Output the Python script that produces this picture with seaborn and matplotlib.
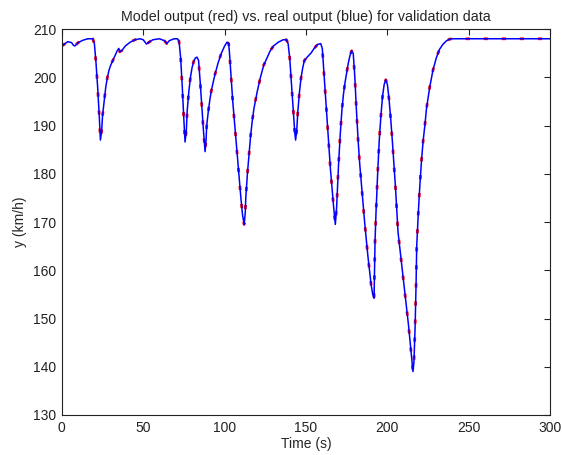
import matplotlib
matplotlib.use("Agg")
import matplotlib.pyplot as plt
import seaborn as sns

time_s = [0, 2, 3.7, 6, 7, 8, 10, 13, 16, 19, 20, 21, 22, 23, 23.7, 24.5, 25, 26, 27, 28,
          29, 30, 32, 34, 35, 35.6, 37, 39, 42, 45, 48, 50, 52, 54, 56, 60, 63, 64.5, 66, 69,
          71, 72, 73, 74, 75, 75.7, 76.5, 77, 78, 79, 80, 81, 82, 83, 84, 85, 86, 87, 88, 88.6,
          89, 90, 91, 92, 94, 96, 98, 100, 101.5, 102.5, 103, 104, 105, 106, 107, 108, 109, 110, 111, 112,
          112.7, 113, 114, 115, 116, 117, 118, 120, 122, 124, 126, 128, 130, 133, 136, 138, 139, 140, 141, 142,
          143, 143.6, 144.3, 145, 146, 147, 148, 149, 151, 153, 155, 157, 159, 160, 161, 162, 163, 164, 165, 166,
          167, 168, 168.8, 169.5, 170, 171, 172, 173, 174, 175, 176, 177, 178, 179, 180, 181, 182, 183, 184, 185,
          186, 187, 188, 189, 190, 191, 191.8, 192.4, 193, 194, 195, 196, 197, 198, 199, 200, 201, 202, 203, 204,
          205, 206, 206.5, 207, 208, 209, 210, 211, 212, 213, 214, 215, 215.7, 216.3, 217, 217.6, 218, 219, 220, 221,
          222, 223, 224, 226, 228, 230, 232, 234, 236, 238, 240, 260, 280, 300]
speed_kmh = [206.5, 207.0, 207.4, 207.2, 206.7, 206.5, 207.2, 207.7, 208.0, 208.0, 207.0, 203.0, 198.0, 192.0, 187.0, 189.0, 192.0, 195.0, 198.0, 200.0,
             201.5, 202.5, 204.0, 205.5, 206.0, 205.3, 205.6, 206.5, 207.3, 207.8, 208.0, 207.8, 206.9, 207.4, 207.8, 208.0, 207.6, 207.0, 207.6, 208.0,
             208.0, 207.5, 204.0, 198.0, 191.0, 186.6, 189.0, 193.0, 197.0, 200.0, 202.0, 203.3, 204.0, 204.2, 203.5, 199.0, 194.0, 189.0, 184.6, 187.0,
             190.0, 193.0, 195.5, 197.5, 200.5, 203.0, 205.0, 206.5, 207.3, 207.0, 205.0, 200.0, 195.0, 191.0, 187.0, 183.0, 179.0, 175.0, 171.5, 169.5,
             172.0, 175.0, 180.0, 184.0, 188.0, 191.0, 193.5, 197.0, 200.0, 202.5, 204.0, 205.5, 206.5, 207.3, 207.8, 207.8, 207.0, 204.0, 199.0, 194.0,
             189.0, 187.0, 189.0, 193.0, 197.0, 200.0, 202.0, 203.5, 204.3, 205.0, 206.0, 206.8, 207.0, 206.0, 201.0, 196.0, 191.0, 186.0, 181.0, 177.0,
             173.0, 169.5, 173.0, 178.0, 182.0, 188.0, 193.0, 196.5, 199.0, 201.0, 203.0, 204.5, 205.5, 205.0, 200.0, 193.0, 187.0, 182.0, 178.0, 174.0,
             170.0, 166.5, 163.0, 160.0, 157.0, 155.0, 154.2, 166.0, 172.0, 180.0, 187.0, 192.0, 196.0, 198.5, 199.5, 198.5, 195.5, 191.5, 187.0, 182.0,
             177.0, 171.0, 168.0, 166.5, 163.5, 160.5, 157.5, 154.5, 151.5, 148.5, 145.0, 141.5, 139.0, 141.0, 148.0, 157.0, 165.0, 172.0, 178.0, 183.0,
             187.0, 190.0, 193.5, 198.0, 201.5, 204.0, 205.8, 206.8, 207.5, 207.9, 208.0, 208.0, 208.0, 208.0]

sns.set_style("white")
plt.rcParams["font.family"] = ["Liberation Sans", "DejaVu Sans"]
plt.rcParams["xtick.direction"] = "in"
plt.rcParams["ytick.direction"] = "in"

fig = plt.figure(figsize=(5.62, 4.55), dpi=100)
ax = fig.add_axes([0.110, 0.088, 0.869, 0.848])

# model output (red dashed) under the real output (blue)
sns.lineplot(x=time_s, y=speed_kmh, color="red", linestyle=(0, (1.5, 5)), linewidth=2.0, ax=ax)
sns.lineplot(x=time_s, y=speed_kmh, color="blue", linewidth=1.1, ax=ax)

ax.set_xlim(0, 300)
ax.set_ylim(130, 210)
ax.set_xticks(range(0, 301, 50))
ax.set_yticks(range(130, 211, 10))
ax.tick_params(top=True, right=True, length=4, width=0.8, labelsize=10, colors="#222222", pad=4)
for s in ax.spines.values():
    s.set_color("#222222")
    s.set_linewidth(0.8)

ax.set_title("Model output (red) vs. real output (blue) for validation data", fontsize=10.3, pad=6)
ax.set_xlabel("Time (s)", fontsize=10, labelpad=2)
ax.set_ylabel("y (km/h)", fontsize=10, labelpad=4)

fig.savefig("out.png", dpi=100)
